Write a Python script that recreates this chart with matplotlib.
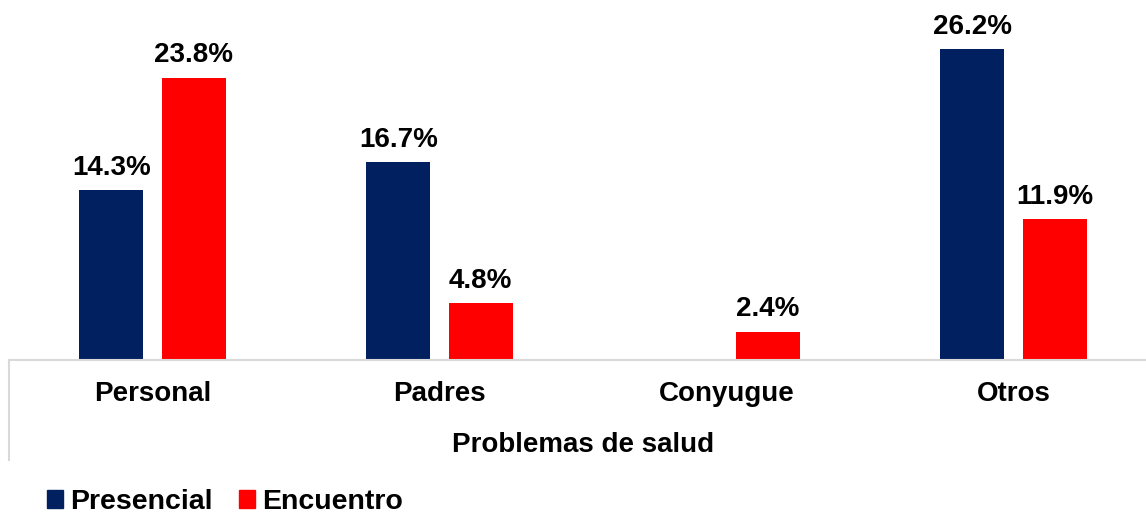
import numpy as np
import matplotlib.pyplot as plt
from matplotlib.patches import Patch
from matplotlib.lines import Line2D

# 数据
categories = ['Personal', 'Padres', 'Conyugue', 'Otros']
presencial = [14.3, 16.7, np.nan, 26.2]
encuentro = [23.8, 4.8, 2.4, 11.9]
group_label = 'Problemas de salud'
series_names = ['Presencial', 'Encuentro']
colors = ['#002060', '#ff0000']

plt.rcParams['font.family'] = ['Liberation Sans', 'DejaVu Sans']
plt.rcParams['font.weight'] = 'bold'

W, H = 1146, 514
fig = plt.figure(figsize=(W / 100, H / 100), dpi=100)
# 轴的位置(像素换算)
ax_left, ax_width = 9 / W, 1148 / W
ax_bottom = (H - 360) / H
ax_height = 356 / H
ax = fig.add_axes([ax_left, ax_bottom, ax_width, ax_height])

x = np.arange(len(categories))
offset = 0.143
bw = 0.223
b1 = ax.bar(x - offset, presencial, bw, color=colors[0], label=series_names[0])
b2 = ax.bar(x + offset, encuentro, bw, color=colors[1], label=series_names[1])

for bars, vals in ((b1, presencial), (b2, encuentro)):
    for rect, v in zip(bars, vals):
        if np.isnan(v):
            continue
        ax.annotate(f'{v:.1f}%', (rect.get_x() + rect.get_width() / 2, v),
                    xytext=(0, 11), textcoords='offset points',
                    ha='center', va='baseline', fontsize=20, fontweight='bold')

ax.set_xlim(-0.5, 3.5)
ax.set_ylim(0, 30)
ax.set_yticks([])
ax.set_xticks(x)
ax.set_xticklabels(categories, fontsize=20, fontweight='bold')
ax.tick_params(axis='x', length=0, pad=15)
for s in ['top', 'right', 'left']:
    ax.spines[s].set_visible(False)
ax.spines['bottom'].set_color('#d9d9d9')
ax.spines['bottom'].set_linewidth(1.5)

# 左侧分隔线
ax.add_line(Line2D([0, 0], [0, -100 / 356], transform=ax.transAxes,
                   color='#d9d9d9', lw=1.5, clip_on=False))

# 分组标签
ax.text(0.5, -92 / 356, group_label, transform=ax.transAxes,
        ha='center', va='baseline', fontsize=20, fontweight='bold')

handles = [Patch(color=c) for c in colors]
fig.legend(handles, series_names, loc='center left',
           bbox_to_anchor=(47 / W, (H - 502) / H), frameon=False,
           ncol=2, handlelength=0.55, handleheight=0.55,
           handletextpad=0.25, columnspacing=0.95, borderpad=0, borderaxespad=0,
           prop={'weight': 'bold', 'size': 20.5})

fig.savefig('out.png', dpi=100)
